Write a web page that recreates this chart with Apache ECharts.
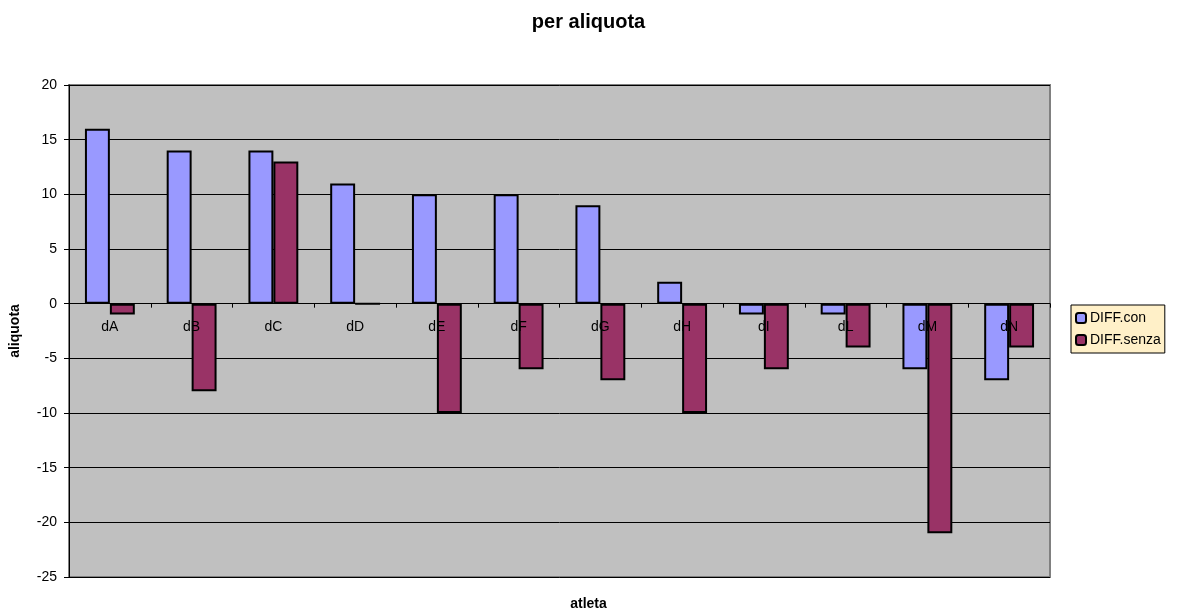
<!DOCTYPE html>
<html>
<head>
<meta charset="utf-8">
<script src="https://cdn.jsdelivr.net/npm/echarts@6/dist/echarts.min.js"></script>
<style>
  html, body { margin: 0; padding: 0; background: #fff; }
  #chart { width: 1177px; height: 613px; }
</style>
</head>
<body>
<div id="chart"></div>
<script>
// Athletes and score differences
const categories = ['dA', 'dB', 'dC', 'dD', 'dE', 'dF', 'dG', 'dH', 'dI', 'dL', 'dM', 'dN'];
const diffCon = [16, 14, 14, 11, 10, 10, 9, 2, -1, -1, -6, -7];
const diffSenza = [-1, -8, 13, 0, -10, -6, -7, -10, -6, -4, -21, -4];

const FONT = 'Liberation Sans, Arial, sans-serif';
const chart = echarts.init(document.getElementById('chart'));

chart.setOption({
  animation: false,
  backgroundColor: '#ffffff',
  title: {
    text: 'per aliquota',
    left: 'center',
    top: 7,
    textStyle: { fontFamily: FONT, fontSize: 20, fontWeight: 'bold', color: '#000' }
  },
  legend: {
    orient: 'vertical',
    left: 1071,
    top: 305,
    padding: [6, 4, 6, 4],
    itemGap: 8,
    itemWidth: 10,
    itemHeight: 10,
    backgroundColor: '#FFF0C8',
    borderColor: '#000',
    borderWidth: 1,
    textStyle: { fontFamily: FONT, fontSize: 14, color: '#000', padding: [0, 0, 0, -1] },
    data: ['DIFF.con', 'DIFF.senza']
  },
  grid: {
    left: 68,
    right: 127,
    top: 85,
    bottom: 36,
    show: true,
    backgroundColor: '#C0C0C0',
    borderColor: '#808080',
    borderWidth: 2
  },
  xAxis: {
    type: 'category',
    data: categories,
    z: 5,
    axisLine: { onZero: true, lineStyle: { color: '#000', width: 1 } },
    axisTick: { show: true, length: 4, lineStyle: { color: '#000' } },
    // category names sit just under the zero line, drawn over the bars
    axisLabel: { fontFamily: FONT, fontSize: 14, color: '#000', margin: -257 },
    splitLine: { show: false }
  },
  yAxis: {
    type: 'value',
    min: -25,
    max: 20,
    interval: 5,
    name: 'aliquota',
    nameLocation: 'middle',
    nameGap: 47,
    nameRotate: 90,
    nameTextStyle: { fontFamily: FONT, fontSize: 14, fontWeight: 'bold', color: '#000' },
    axisLine: { show: true, lineStyle: { color: '#000', width: 1 } },
    axisTick: { show: true, length: 5, lineStyle: { color: '#000' } },
    axisLabel: { fontFamily: FONT, fontSize: 14, color: '#000', margin: 12 },
    splitLine: { show: true, lineStyle: { color: '#000', width: 1 } }
  },
  series: [
    {
      name: 'DIFF.con',
      type: 'bar',
      data: diffCon,
      barGap: '0%',
      barCategoryGap: '39%',
      itemStyle: { color: '#9999FF', borderColor: '#000', borderWidth: 2 }
    },
    {
      name: 'DIFF.senza',
      type: 'bar',
      data: diffSenza,
      itemStyle: { color: '#993366', borderColor: '#000', borderWidth: 2 }
    }
  ],
  graphic: [{
    type: 'text',
    left: 'center',
    top: 597,
    style: { text: 'atleta', font: 'bold 14px ' + FONT, fill: '#000' }
  }]
});
</script>
</body>
</html>
